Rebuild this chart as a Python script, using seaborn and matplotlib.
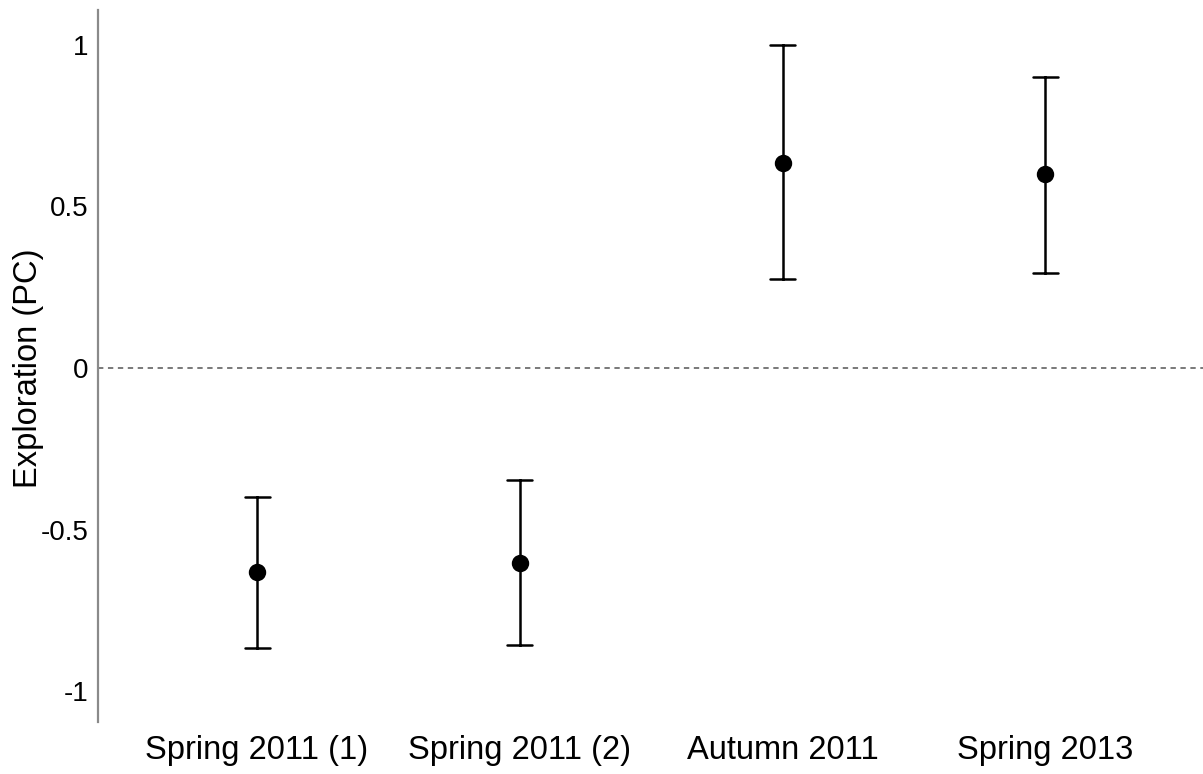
import numpy as np
import pandas as pd
import matplotlib
matplotlib.use("Agg")
import matplotlib.pyplot as plt
import seaborn as sns

# values: mean with lower / upper interval bounds
seasons = ["Spring 2011 (1)", "Spring 2011 (2)", "Autumn 2011", "Spring 2013"]
mean_pc = [-0.632, -0.604, 0.636, 0.601]
lower_pc = [-0.867, -0.858, 0.276, 0.294]
upper_pc = [-0.399, -0.347, 1.000, 0.901]
y_ticks = [-1, -0.5, 0, 0.5, 1]
y_tick_labels = ["-1", "-0.5", "0", "0.5", "1"]

# long table: lower, mean, upper per season -> median is the point, min/max the bar
rows = []
for s, lo, m, hi in zip(seasons, lower_pc, mean_pc, upper_pc):
    for v in (lo, m, hi):
        rows.append({"season": s, "pc": v})
df = pd.DataFrame(rows)

sns.set_style("white")
plt.rcParams["font.family"] = ["Liberation Sans", "DejaVu Sans"]

fig = plt.figure(figsize=(12.03, 7.74), dpi=100)
ax = fig.add_axes([0.0815, 0.067, 0.9185, 0.92])

ax.axhline(0, color="#555555", lw=1.1, ls=(0, (3.5, 3)), zorder=0)

sns.pointplot(data=df, x="season", y="pc", order=seasons,
              estimator="median", errorbar=("pi", 100),
              linestyle="none", marker="o", markersize=10.5,
              color="black", capsize=0.095,
              err_kws={"linewidth": 1.8}, ax=ax)

ax.set_xlim(-0.605, 3.6)
ax.set_ylim(-1.096, 1.108)
ax.set_yticks(y_ticks)
ax.set_yticklabels(y_tick_labels)
ax.set_xlabel("")
ax.set_ylabel("Exploration (PC)", fontsize=23.5, color="black")
ax.yaxis.set_label_coords(-0.049, 0.497)

for sp in ["top", "right", "bottom"]:
    ax.spines[sp].set_visible(False)
ax.spines["left"].set_color("#8a8a8a")
ax.spines["left"].set_linewidth(1.6)
ax.tick_params(axis="y", length=3, width=1.0, color="#222222",
               labelsize=20, labelcolor="black", pad=4)
ax.tick_params(axis="x", length=0, labelsize=23.5, labelcolor="black", pad=9)

fig.savefig("out.png", dpi=100)
